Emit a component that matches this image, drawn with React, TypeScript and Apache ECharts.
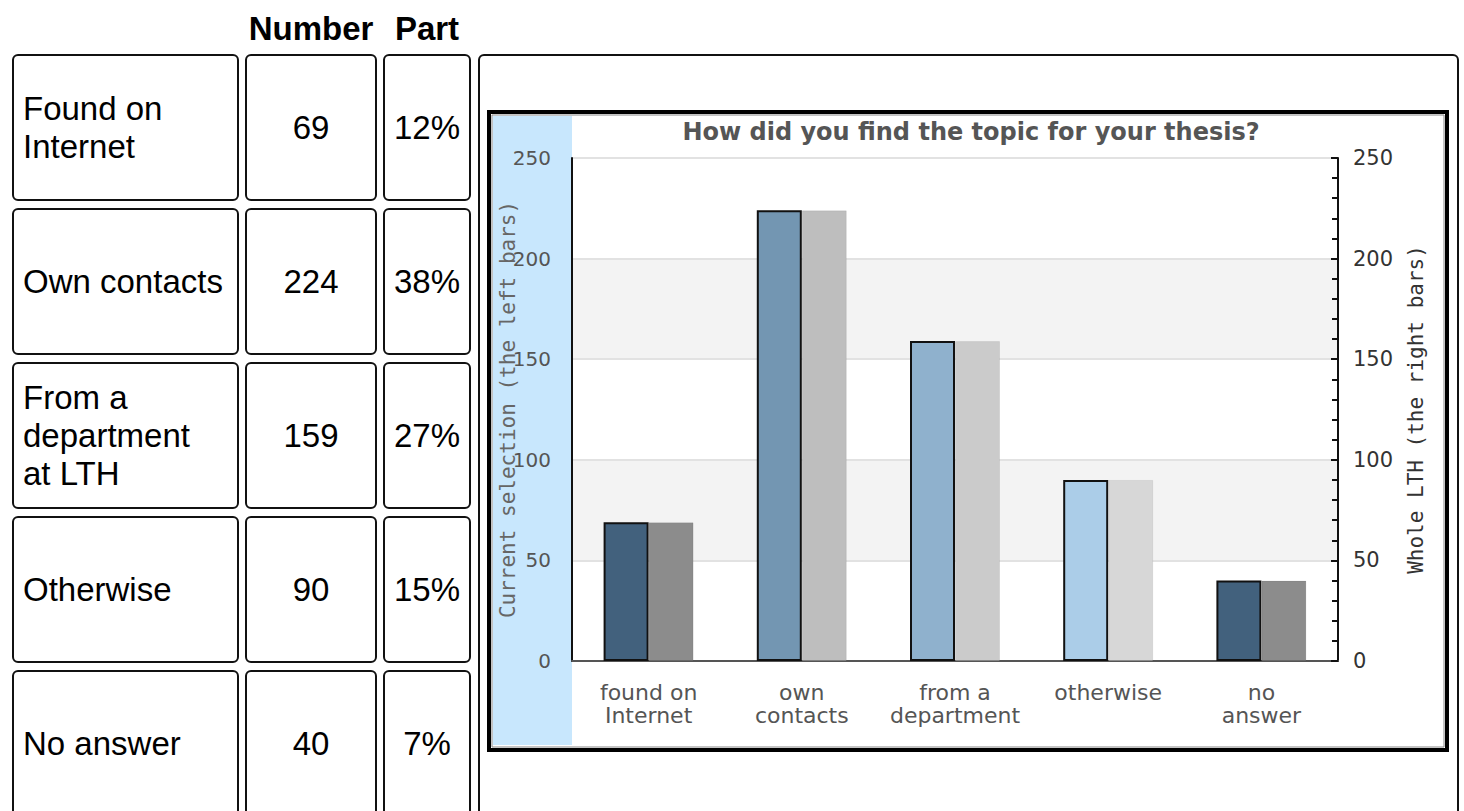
import React, { useEffect, useRef } from "react";
import * as echarts from "echarts";

// ---- data ----
const categories = ["found on\nInternet", "own\ncontacts", "from a\ndepartment", "otherwise", "no\nanswer"];
const currentSelection = [69, 224, 159, 90, 40];
const wholeLth = [69, 224, 159, 90, 40];
const yMin = 0;
const yMax = 250;
const yInterval = 50;

const tableHeaders = ["Number", "Part"];
const tableLabels = ["Found on\nInternet", "Own contacts", "From a\ndepartment\nat LTH", "Otherwise", "No answer"];
const tableNumbers = [69, 224, 159, 90, 40];
const tableParts = ["12%", "38%", "27%", "15%", "7%"];

const chartTitle = "How did you find the topic for your thesis?";
const leftAxisName = "Current selection (the left bars)";
const rightAxisName = "Whole LTH (the right bars)";

// ---- styles ----
const leftColors = ["#42617d", "#7396b2", "#8fb1cd", "#abcde8", "#42617d"];
const rightColors = ["#8c8c8c", "#bebebe", "#cbcbcb", "#d7d7d7", "#8c8c8c"];

export default function App() {
  const ref = useRef<HTMLDivElement>(null);

  useEffect(() => {
    if (!ref.current) return;
    const chart = echarts.init(ref.current, null, { renderer: "svg" });

    const tableFont = "Liberation Sans, Arial, Helvetica, sans-serif";
    const cols = [
      { x: 12, w: 227 },
      { x: 245, w: 132 },
      { x: 383, w: 88 },
    ];
    const rowTop = 54;
    const rowH = 147;
    const rowStep = 154;

    const graphics: any[] = [];
    // headers
    tableHeaders.forEach((h, i) => {
      const c = cols[i + 1];
      graphics.push({
        type: "text",
        x: c.x + c.w / 2,
        y: 28,
        style: {
          text: h,
          fontFamily: tableFont,
          fontWeight: "bold",
          fontSize: 33,
          fill: "#000",
          align: "center",
          verticalAlign: "middle",
        },
      });
    });
    // rows
    tableLabels.forEach((lab, r) => {
      const y = rowTop + r * rowStep;
      cols.forEach((c) => {
        graphics.push({
          type: "rect",
          shape: { x: c.x + 1, y: y + 1, width: c.w - 2, height: rowH - 2, r: 5 },
          style: { fill: "#fff", stroke: "#111", lineWidth: 2 },
        });
      });
      const cy = y + rowH / 2;
      graphics.push({
        type: "text",
        x: 23,
        y: cy,
        style: {
          text: lab,
          fontFamily: tableFont,
          fontSize: 33,
          lineHeight: 38,
          fill: "#000",
          align: "left",
          verticalAlign: "middle",
        },
      });
      graphics.push({
        type: "text",
        x: cols[1].x + cols[1].w / 2,
        y: cy,
        style: {
          text: String(tableNumbers[r]),
          fontFamily: tableFont,
          fontSize: 33,
          fill: "#000",
          align: "center",
          verticalAlign: "middle",
        },
      });
      graphics.push({
        type: "text",
        x: cols[2].x + cols[2].w / 2,
        y: cy,
        style: {
          text: tableParts[r],
          fontFamily: tableFont,
          fontSize: 33,
          fill: "#000",
          align: "center",
          verticalAlign: "middle",
        },
      });
    });
    // big right cell
    graphics.push({
      type: "rect",
      z: -20,
      shape: { x: 479, y: 55, width: 979, height: 800, r: 5 },
      style: { fill: "#fff", stroke: "#111", lineWidth: 2 },
    });
    // chart image frame
    graphics.push({
      type: "rect",
      z: -19,
      shape: { x: 489, y: 112, width: 958, height: 638 },
      style: { fill: "#fff", stroke: "#000", lineWidth: 4 },
    });
    graphics.push({
      type: "rect",
      z: -18,
      shape: { x: 492, y: 115, width: 952, height: 632 },
      style: { fill: "none", stroke: "#888", lineWidth: 1 },
    });
    // blue band
    graphics.push({
      type: "rect",
      z: -17,
      shape: { x: 493, y: 116, width: 79, height: 629 },
      style: { fill: "#c8e7fd" },
    });

    const tickFont = "DejaVu Sans, sans-serif";
    const monoFont = "DejaVu Sans Mono, monospace";

    chart.setOption({
      animation: false,
      backgroundColor: "#fff",
      title: {
        text: chartTitle,
        left: 966,
        top: 115,
        textAlign: "center",
        textStyle: {
          fontFamily: "DejaVu Sans, sans-serif",
          fontWeight: "bold",
          fontSize: 24,
          color: "#555",
        },
      },
      graphic: { elements: graphics },
      grid: { left: 572, top: 158, width: 766, height: 503, containLabel: false },
      xAxis: [
        {
          type: "category",
          data: categories,
          position: "bottom",
          axisLine: { show: true, lineStyle: { color: "#111", width: 2 } },
          axisTick: { show: false },
          axisLabel: {
            color: "#555",
            fontFamily: tickFont,
            fontSize: 22,
            lineHeight: 23,
            margin: 20,
            interval: 0,
          },
          splitLine: { show: false },
        },
        {
          type: "category",
          data: categories,
          position: "top",
          axisLine: { show: true, lineStyle: { color: "#555", width: 2 } },
          axisTick: { show: false },
          axisLabel: { show: false },
        },
      ],
      yAxis: [
        {
          type: "value",
          min: yMin,
          max: yMax,
          interval: yInterval,
          position: "left",
          name: leftAxisName,
          nameLocation: "middle",
          nameRotate: 90,
          nameGap: 54,
          nameMoveOverlap: false,
          nameTextStyle: { fontFamily: monoFont, fontSize: 21, color: "#666" },
          axisLine: { show: true, lineStyle: { color: "#111", width: 2 } },
          axisTick: { show: false },
          axisLabel: { color: "#555", fontFamily: tickFont, fontSize: 20, margin: 21 },
          splitLine: { show: true, lineStyle: { color: "#e2e2e2", width: 2 } },
          splitArea: { show: true, areaStyle: { color: ["rgba(0,0,0,0)", "#f3f3f3"] } },
        },
        {
          type: "value",
          min: yMin,
          max: yMax,
          interval: yInterval,
          position: "right",
          name: rightAxisName,
          nameLocation: "middle",
          nameRotate: 90,
          nameGap: 67,
          nameMoveOverlap: false,
          nameTextStyle: { fontFamily: monoFont, fontSize: 21, color: "#333" },
          axisLine: { show: true, lineStyle: { color: "#111", width: 2 } },
          axisTick: { show: true, inside: true, length: 7, lineStyle: { color: "#111", width: 2 } },
          minorTick: { show: true, splitNumber: 5, length: 6, lineStyle: { color: "#111", width: 2 } },
          axisLabel: { color: "#333", fontFamily: tickFont, fontSize: 21, margin: 15 },
          splitLine: { show: false },
        },
      ],
      series: [
        {
          type: "bar",
          name: leftAxisName,
          xAxisIndex: 0,
          yAxisIndex: 0,
          barWidth: 45,
          barGap: "0%",
          data: currentSelection.map((v, i) => ({
            value: v,
            itemStyle: { color: leftColors[i], borderColor: "#111", borderWidth: 2 },
          })),
        },
        {
          type: "bar",
          name: rightAxisName,
          xAxisIndex: 0,
          yAxisIndex: 1,
          barWidth: 45,
          barGap: "0%",
          data: wholeLth.map((v, i) => ({
            value: v,
            itemStyle: { color: rightColors[i], borderColor: "rgba(0,0,0,0.07)", borderWidth: 1 },
          })),
        },
      ],
    });

    return () => chart.dispose();
  }, []);

  return (
    <div
      ref={ref}
      style={{ position: "absolute", left: 0, top: 0, width: 1464, height: 811 }}
    />
  );
}
